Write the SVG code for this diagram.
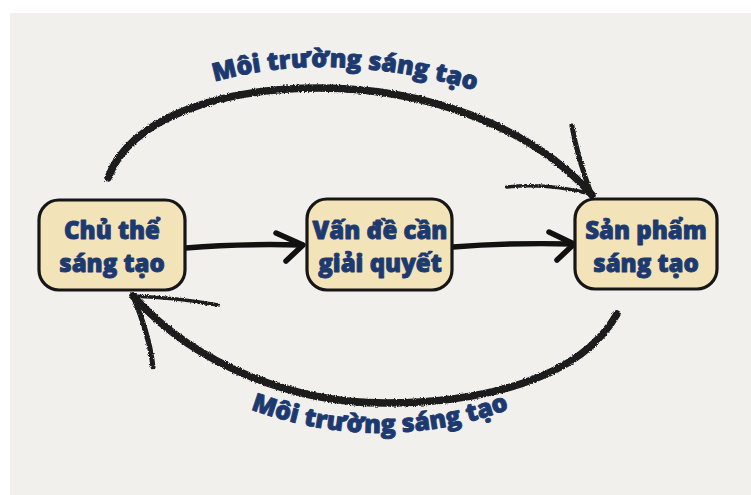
<svg xmlns="http://www.w3.org/2000/svg" width="751" height="495" viewBox="0 0 751 495">
  <style>
    .box { fill: #f3e3b9; stroke: #161616; stroke-width: 3.2; }
    .label { font-family: "Open Sans", "Noto Sans", "Liberation Sans", sans-serif; font-weight: 800; fill: #1d3a70; stroke: #1d3a70; stroke-width: 0.9; stroke-linejoin: round; text-anchor: middle; }
    .node-text { font-size: 24px; }
    .arc-text { font-size: 25px; }
    .flow { fill: none; stroke: #111; stroke-width: 5.5; stroke-linecap: round; stroke-linejoin: round; }
    .chalk { fill: none; stroke: #1a1a1a; stroke-linecap: round; stroke-linejoin: round; }
  </style>
  <defs>
    <!-- rough charcoal edge for the hand-drawn loop arrows -->
    <filter id="rough" x="-5%" y="-5%" width="110%" height="110%">
      <feTurbulence type="fractalNoise" baseFrequency="0.9" numOctaves="2" seed="3" result="noise"/>
      <feDisplacementMap in="SourceGraphic" in2="noise" scale="3.2" xChannelSelector="R" yChannelSelector="G"/>
    </filter>
    <path id="topLabelPath" d="M200,86 Q330,44 490,95"/>
    <path id="bottomLabelPath" d="M232,402 Q380,464 528,402"/>
  </defs>

  <!-- backdrop -->
  <rect x="0" y="0" width="751" height="495" fill="#ffffff"/>
  <rect x="10" y="13" width="741" height="482" fill="#f1f0ec"/>

  <!-- connectors -->
  <g id="connectors">
    <path class="flow" d="M186,248 C220,245 260,244 302,245"/>
    <path class="flow" d="M276,233 L303,245 L286,261"/>
    <path class="flow" d="M453,247 C490,244 530,243 573,244"/>
    <path class="flow" d="M549,232 L574,244 L557,260"/>

    <g filter="url(#rough)">
      <path class="chalk" stroke-width="7.5" d="M108,178 C130,118 220,88 320,88 C420,88 530,124 592,195"/>
      <path class="chalk" stroke-width="5" d="M572,126 C576,150 584,175 592,196"/>
      <path class="chalk" stroke-width="3.5" d="M507,187 C540,183 568,188 592,194"/>

      <path class="chalk" stroke-width="7.5" d="M617,314 C580,380 480,403 385,403 C300,403 200,370 133,296"/>
      <path class="chalk" stroke-width="5" d="M153,367 C150,340 142,318 133,296"/>
      <path class="chalk" stroke-width="3.5" d="M218,305 C190,300 160,297 133,296"/>
    </g>

    <text class="label arc-text"><textPath href="#topLabelPath" startOffset="50%">Môi trường sáng tạo</textPath></text>
    <text class="label arc-text"><textPath href="#bottomLabelPath" startOffset="50%">Môi trường sáng tạo</textPath></text>
  </g>

  <!-- nodes -->
  <g id="node-chu-the">
    <rect class="box" x="39" y="200" width="146" height="90" rx="20"/>
    <text class="label node-text" x="112" y="239">Chủ thể</text>
    <text class="label node-text" x="112" y="272">sáng tạo</text>
  </g>
  <g id="node-van-de">
    <rect class="box" x="307" y="199" width="145" height="91" rx="20"/>
    <text class="label node-text" x="380" y="239">Vấn đề cần</text>
    <text class="label node-text" x="380" y="272">giải quyết</text>
  </g>
  <g id="node-san-pham">
    <rect class="box" x="575" y="199" width="142" height="90" rx="20"/>
    <text class="label node-text" x="646" y="239">Sản phẩm</text>
    <text class="label node-text" x="646" y="272">sáng tạo</text>
  </g>
</svg>
